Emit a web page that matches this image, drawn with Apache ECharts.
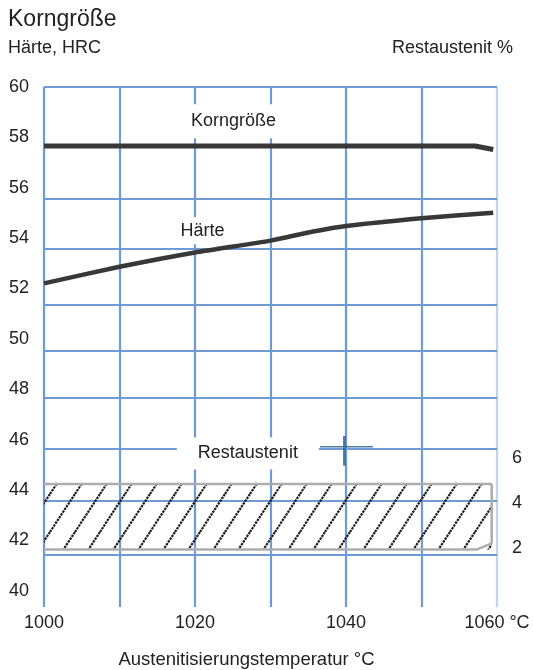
<!DOCTYPE html>
<html>
<head>
<meta charset="utf-8">
<script src="https://cdn.jsdelivr.net/npm/echarts@6/dist/echarts.min.js"></script>
<style>
html,body{margin:0;padding:0;background:#fff;}
#chart{width:533px;height:670px;}
</style>
</head>
<body>
<div id="chart"></div>
<script>
// ---- data ----
var yTicks = [40, 42, 44, 46, 48, 50, 52, 54, 56, 58, 60];
var restTicks = [2, 4, 6];
var xTicks = [1000, 1020, 1040, 1060];
var hGridLines = [60, 55.58, 53.57, 51.37, 49.53, 47.64, 45.64, 43.56, 41.44];

var kornTemp = [1000, 1057.1, 1059.5];
var kornValue = [57.66, 57.66, 57.52];

var haerteTemp = [1000, 1010, 1020, 1030, 1035, 1040, 1050, 1059.5];
var haerteValue = [52.2, 52.86, 53.43, 53.9, 54.22, 54.48, 54.79, 55.01];

var restTemp = [1000, 1057.3, 1059.3];
var restLow = [1.93, 1.93, 2.21];
var restHigh = [4.84, 4.84, 4.84];

var crossPoint = [1040.06, 45.55];

var labelKorn = 'Korngröße';
var labelHaerte = 'Härte';
var labelRest = 'Restaustenit';

// ---- build ----
function pairs(xs, ys) { return xs.map(function (x, i) { return [x, ys[i]]; }); }

var pat = document.createElement('canvas');
pat.width = 25; pat.height = 38;
(function () {
  var c = pat.getContext('2d');
  c.strokeStyle = '#1c1c1c';
  c.lineWidth = 2.2;
  c.setLineDash([2.4, 0.9]);
  [-25, 0, 25].forEach(function (o) {
    c.beginPath(); c.moveTo(o, 38); c.lineTo(o + 25, 0); c.stroke();
  });
})();

var blue = '#6f9bd5';
var font = 'Liberation Sans, Arial, Helvetica, sans-serif';
var txt = '#222';
var bandGrey = '#adadad';
var lastT = restTemp[restTemp.length - 1];

var chart = echarts.init(document.getElementById('chart'), null, {renderer: 'canvas'});
chart.setOption({
  animation: false,
  backgroundColor: '#fff',
  textStyle: {fontFamily: font},
  title: [{
    text: 'Korngröße', left: 3, top: 3,
    textStyle: {fontSize: 23, fontWeight: 'normal', color: txt, fontFamily: font}
  }],
  grid: {left: 44, right: 36, top: 87, height: 520, outerBoundsMode: 'none', containLabel: false},
  xAxis: {
    type: 'value', min: 1000, max: 1060, interval: 10,
    name: 'Austenitisierungstemperatur °C',
    nameLocation: 'middle', nameGap: 43,
    nameTextStyle: {fontSize: 18.5, color: txt, padding: [0, 48, 0, 0]},
    axisLine: {show: false}, axisTick: {show: false},
    axisLabel: {
      fontSize: 18, color: txt, margin: 7, hideOverlap: false,
      formatter: function (v) {
        if (xTicks.indexOf(v) < 0) return '';
        return v === 1060 ? '1060 °C' : String(v);
      }
    },
    splitLine: {show: true, lineStyle: {color: [blue, blue, blue, blue, blue, blue, '#c2d4ee'], width: 2.2}}
  },
  yAxis: [{
    type: 'value', min: 39.35, max: 60, position: 'left',
    name: 'Härte, HRC', nameLocation: 'end', nameGap: 30,
    nameTextStyle: {fontSize: 18, color: txt, align: 'left', padding: [0, 0, 0, -36]},
    axisLine: {show: false}, axisTick: {show: false}, splitLine: {show: false},
    axisLabel: {fontSize: 18, color: txt, margin: 15, customValues: yTicks}
  }, {
    type: 'value', min: -0.622, max: 22.489, position: 'right',
    name: 'Restaustenit %', nameLocation: 'end', nameGap: 30,
    nameTextStyle: {fontSize: 18, color: txt, align: 'right', padding: [0, -16, 0, 0]},
    axisLine: {show: false}, axisTick: {show: false}, splitLine: {show: false},
    axisLabel: {fontSize: 18, color: txt, margin: 15, customValues: restTicks}
  }],
  series: [{
    name: 'grid', type: 'line', yAxisIndex: 0, z: 1, silent: true,
    data: [[1000, 60]], showSymbol: false, lineStyle: {opacity: 0},
    markLine: {
      z: 1, silent: true, symbol: 'none', label: {show: false},
      lineStyle: {color: blue, width: 2, type: 'solid'},
      data: hGridLines.map(function (v) { return {yAxis: v}; })
    }
  }, {
    name: 'Restaustenit', type: 'line', yAxisIndex: 1, z: 3,
    data: pairs(restTemp, restHigh), showSymbol: false,
    lineStyle: {color: bandGrey, width: 2.5},
    areaStyle: {color: {image: pat, repeat: 'repeat'}, opacity: 1, origin: Math.min.apply(null, restLow)},
    markPoint: {
      z: 20, symbol: 'rect', symbolSize: 1, itemStyle: {color: 'rgba(0,0,0,0)'},
      label: {show: true, position: 'inside', formatter: '{b}', fontSize: 18, color: txt,
        backgroundColor: '#fff', padding: [7, 21]},
      data: [{name: labelRest, coord: [1027, 6.2]}]
    }
  }, {
    name: 'restLow', type: 'line', yAxisIndex: 1, z: 4,
    data: pairs(restTemp, restLow), showSymbol: false,
    lineStyle: {color: bandGrey, width: 2.5}
  }, {
    name: 'restEdge', type: 'line', yAxisIndex: 1, z: 4,
    data: [[lastT, restLow[restLow.length - 1]], [lastT, restHigh[restHigh.length - 1]]],
    showSymbol: false, lineStyle: {color: bandGrey, width: 2.5}
  }, {
    name: 'Korngröße', type: 'line', yAxisIndex: 0, z: 10,
    data: pairs(kornTemp, kornValue), showSymbol: false,
    lineStyle: {color: '#383838', width: 5},
    markPoint: {
      z: 20, symbol: 'rect', symbolSize: 1, itemStyle: {color: 'rgba(0,0,0,0)'},
      label: {show: true, position: 'inside', formatter: '{b}', fontSize: 18, color: txt,
        backgroundColor: '#fff', padding: [8, 2]},
      data: [{name: labelKorn, coord: [1025.1, 58.64]}]
    }
  }, {
    name: 'Härte', type: 'line', yAxisIndex: 0, z: 10,
    data: pairs(haerteTemp, haerteValue), showSymbol: false, smooth: 0.2,
    lineStyle: {color: '#383838', width: 4.5},
    markPoint: {
      z: 5, symbol: 'rect', symbolSize: 1, itemStyle: {color: 'rgba(0,0,0,0)'},
      label: {show: true, position: 'inside', formatter: '{b}', fontSize: 18, color: txt,
        backgroundColor: '#fff', padding: [6, 2, 3, 2]},
      data: [{name: labelHaerte, coord: [1021, 54.29]}]
    }
  }, {
    name: 'cross', type: 'scatter', yAxisIndex: 0, z: 15, silent: true,
    data: [crossPoint],
    symbol: 'path://M0,10.7L52.7,10.7M24.3,0L24.3,29.7',
    symbolSize: [52.7, 29.7],
    itemStyle: {color: 'rgba(0,0,0,0)', borderColor: '#1f5c8e', borderWidth: 2}
  }]
});
</script>
</body>
</html>
